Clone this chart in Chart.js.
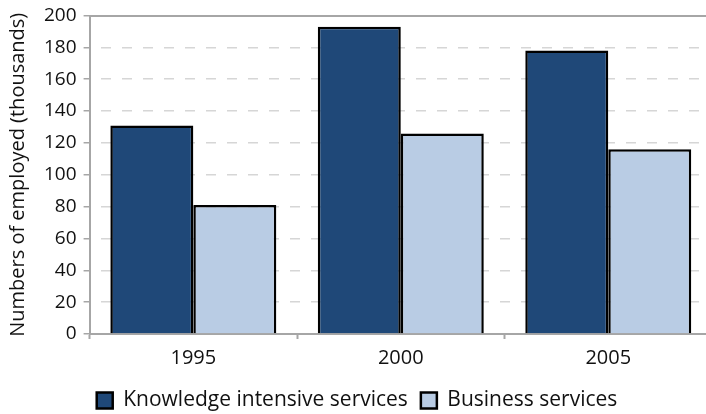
<!DOCTYPE html>
<html>

<head>
    <title>Numbers of employed</title>
    <script src="https://cdn.jsdelivr.net/npm/chart.js"></script>
    <style>
        body { margin: 0; background: #fff; overflow: hidden; }
        #wrap { width: 712px; height: 421px; }
    </style>
</head>

<body>
    <div id="wrap"><canvas id="chart"></canvas></div>
    <script>
        // values
        var years = ['1995', '2000', '2005'];
        var knowledgeServices = [131, 193, 178];
        var businessServices = [81, 126, 116];
        var yTicks = [0, 20, 40, 60, 80, 100, 120, 140, 160, 180, 200];

        var FONT = '"Open Sans", "DejaVu Sans", sans-serif';
        var axisGrey = '#a6a6a6';

        var ctx = document.getElementById('chart').getContext('2d');
        var chart = new Chart(ctx, {
            type: 'bar',
            data: {
                labels: years,
                datasets: [{
                    label: 'Knowledge intensive services',
                    data: knowledgeServices,
                    backgroundColor: '#1f4878',
                    borderColor: '#000',
                    borderWidth: 2.5,
                    borderSkipped: 'bottom'
                }, {
                    label: 'Business services',
                    data: businessServices,
                    backgroundColor: '#b9cce4',
                    borderColor: '#000',
                    borderWidth: 2.5,
                    borderSkipped: 'bottom'
                }]
            },
            options: {
                responsive: true,
                maintainAspectRatio: false,
                animation: false,
                datasets: {
                    bar: { categoryPercentage: 0.8, barPercentage: 1.0 }
                },
                layout: {
                    padding: { left: 2, top: 6, right: 0, bottom: 0 }
                },
                plugins: {
                    legend: {
                        position: 'bottom',
                        labels: {
                            color: '#111',
                            font: { family: FONT, size: 21 },
                            boxWidth: 16,
                            boxHeight: 16,
                            padding: 13,
                            generateLabels: function (c) {
                                return c.data.datasets.map(function (ds, i) {
                                    return {
                                        text: ds.label,
                                        fillStyle: ds.backgroundColor,
                                        strokeStyle: '#000',
                                        lineWidth: 2.5,
                                        fontColor: '#111',
                                        datasetIndex: i
                                    };
                                });
                            }
                        }
                    },
                    tooltip: { enabled: false }
                },
                scales: {
                    x: {
                        grid: {
                            drawOnChartArea: false,
                            drawTicks: true,
                            tickLength: 5,
                            tickColor: axisGrey,
                            tickWidth: 2
                        },
                        border: { color: axisGrey, width: 2 },
                        ticks: {
                            color: '#111',
                            padding: 7,
                            font: { family: FONT, size: 20 }
                        }
                    },
                    xTop: {
                        type: 'category',
                        position: 'top',
                        labels: years,
                        grid: { display: false },
                        ticks: { display: false },
                        border: { color: axisGrey, width: 2 }
                    },
                    y: {
                        min: 0,
                        max: 200,
                        afterBuildTicks: function (axis) {
                            axis.ticks = yTicks.map(function (v) { return { value: v }; });
                        },
                        grid: {
                            color: '#d6d6d6',
                            lineWidth: 1.5,
                            drawTicks: true,
                            tickLength: 6,
                            tickColor: axisGrey,
                            tickWidth: 1.5,
                            tickBorderDash: [0, 0]
                        },
                        border: { color: axisGrey, width: 2, dash: [10, 11], dashOffset: -10 },
                        ticks: {
                            color: '#111',
                            padding: 7,
                            font: { family: FONT, size: 19, lineHeight: 0.9 }
                        },
                        title: {
                            display: true,
                            text: 'Numbers of employed (thousands)',
                            color: '#111',
                            font: { family: FONT, size: 20 },
                            padding: { top: 4, bottom: 7 }
                        }
                    }
                }
            }
        });
    </script>
</body>

</html>
